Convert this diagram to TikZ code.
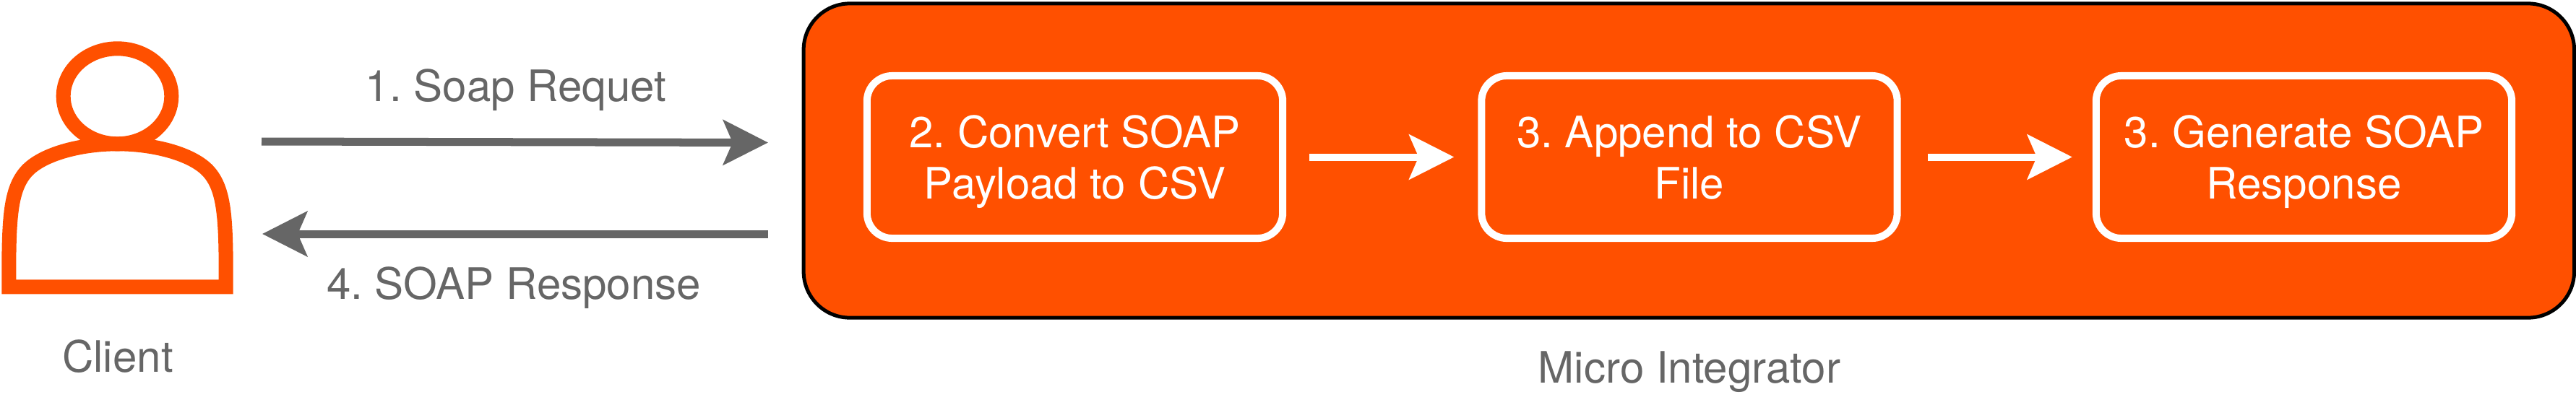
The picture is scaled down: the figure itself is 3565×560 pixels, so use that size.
\documentclass[tikz,border=0pt]{standalone}
\usepackage{fontspec}
\setmainfont{TeX Gyre Heros}
\usetikzlibrary{arrows.meta}
\definecolor{miorange}{HTML}{FF5000}
\definecolor{txtgray}{HTML}{666666}

\begin{document}
\frenchspacing
\begin{tikzpicture}[x=0.01cm, y=-0.01cm, node distance={85mm},
    lbl/.style = {anchor=base, text=txtgray, inner sep=0pt, font=\fontsize{17.07pt}{19.92pt}\selectfont},
    stepbox/.style = {draw=white, line width=0.1cm, rounded corners=0.35cm, minimum width=5.75cm, minimum height=2.25cm,
        inner sep=0pt, text=white, align=center, text height=1.15cm, text depth=0cm, font=\fontsize{17.07pt}{19.92pt}\selectfont},
    grayarrow/.style = {draw=txtgray, line width=0.11cm, -{Stealth[length=0.62cm, width=0.62cm, inset=0.13cm]}},
    whitearrow/.style = {draw=white, line width=0.1cm, -{Stealth[length=0.62cm, width=0.62cm, inset=0.13cm]}}]
    \useasboundingbox (0,0) rectangle (3565,560);

    % client
    \draw[miorange, line width=0.2cm, line join=miter] (12.3,397.3) -- (12.3,380)
        .. controls (12.3,300) and (15,262) .. (36,238)
        .. controls (57,214) and (110,199.3) .. (162.5,199.3)
        .. controls (215,199.3) and (268,214) .. (289,238)
        .. controls (310,262) and (312.7,300) .. (312.7,380) -- (312.7,397.3) -- cycle;
    \draw[miorange, line width=0.2cm] (162.5,133.3) ellipse [x radius=74.8, y radius=66];

    % micro integrator
    \node[draw=black, fill=miorange, line width=0.05cm, rounded corners=0.64cm, minimum width=24.49cm, minimum height=4.35cm] (mi) at (2337.35,222.5) {};
    \node[stepbox] (step1) at (1487.5,217.5) {2. Convert SOAP\\Payload to CSV};
    \node[stepbox] (step2) [right of=step1] {3. Append to CSV\\File};
    \node[stepbox] (step3) [right of=step2] {3. Generate SOAP\\Response};

    \draw[whitearrow, shorten <=0.32cm, shorten >=0.33cm] (step1) -- (step2);
    \draw[whitearrow, shorten <=0.37cm, shorten >=0.28cm] (step2) -- (step3);

    % request and response
    \coordinate (reqstart) at (362,196);
    \coordinate (reqend) at (1063,197.5);
    \coordinate (respstart) at (1063,324);
    \coordinate (respend) at (363,324);
    \draw[grayarrow] (reqstart) -- (reqend);
    \draw[grayarrow] (respstart) -- (respend);

    \node[lbl] (req) at (714,140) {1. Soap Requet};
    \node[lbl] (resp) at (711,414) {4. SOAP Response};
    \node[lbl] (client) at (163,515) {Client};
    \node[lbl] (milabel) at (2338,530) {Micro Integrator};
\end{tikzpicture}
\end{document}
